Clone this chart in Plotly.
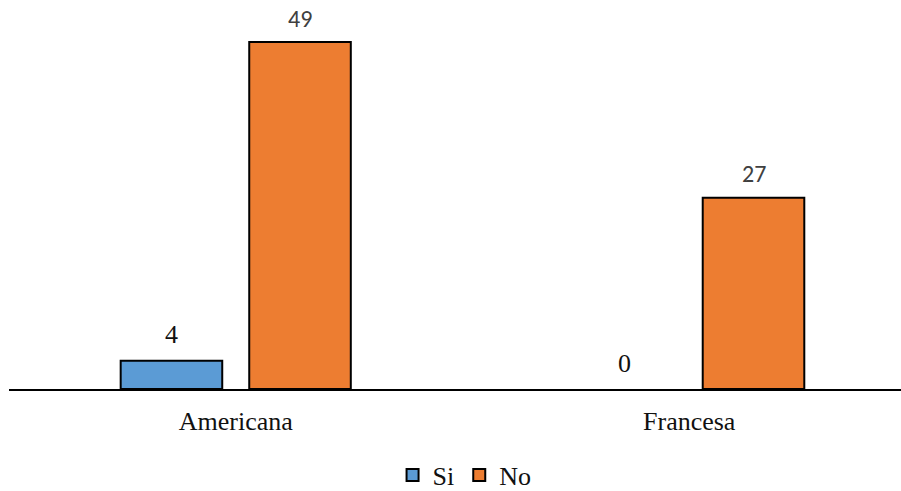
import plotly.graph_objects as go

# Survey counts by type
categories = ["Americana", "Francesa"]
si_values = [4, 0]
no_values = [49, 27]

series_names = ["Si", "No"]
series_colors = ["#5B9BD5", "#ED7D31"]

BARGAP = 0.433
BARGROUPGAP = 0.21

SERIF = "Liberation Serif, Times New Roman, serif"
SANS = "Carlito, Calibri, sans-serif"

fig = go.Figure()
for name, vals, color in zip(series_names, [si_values, no_values], series_colors):
    fig.add_trace(go.Bar(
        x=categories,
        y=vals,
        name=name,
        marker=dict(
            color=color,
            # no outline on empty bars so a zero count leaves no mark
            line=dict(color="#000000", width=[2 if v > 0 else 0 for v in vals]),
        ),
        hoverinfo="skip",
    ))

# Value labels over each bar: slot width per series inside a group
n_series = 2
slot = (1 - BARGAP) / n_series
label_fonts = [
    dict(family=SERIF, size=26, color="#111111"),
    dict(family=SANS, size=24, color="#404040"),
]
for s, vals in enumerate([si_values, no_values]):
    offset = -(1 - BARGAP) / 2 + slot * (s + 0.5)
    for i, v in enumerate(vals):
        fig.add_annotation(
            x=i + offset, y=v, xref="x", yref="y",
            text=str(v), showarrow=False,
            yshift=26 if s == 0 else 24,
            font=label_fonts[s],
        )

fig.update_layout(
    width=901, height=491,
    margin=dict(l=9, r=0, t=10, b=102, autoexpand=False),
    paper_bgcolor="white", plot_bgcolor="white",
    font=dict(family=SERIF, color="#111111"),
    barmode="group", bargap=BARGAP, bargroupgap=BARGROUPGAP,
    showlegend=True,
    legend=dict(
        orientation="h", x=0.43, xanchor="left", y=-0.227, yanchor="middle",
        font=dict(family=SERIF, size=26, color="#111111"),
        itemwidth=30, traceorder="normal", tracegroupgap=0,
    ),
    xaxis=dict(
        type="category", range=[-0.5, 1.467],
        showline=True, linecolor="#000000", linewidth=2,
        showgrid=False, ticks="", ticklabelstandoff=8,
        tickfont=dict(family=SERIF, size=26, color="#111111"),
        fixedrange=True,
    ),
    yaxis=dict(
        range=[0, 53.52], visible=False, showgrid=False, zeroline=False,
        fixedrange=True,
    ),
)

fig.write_html("out.html")
